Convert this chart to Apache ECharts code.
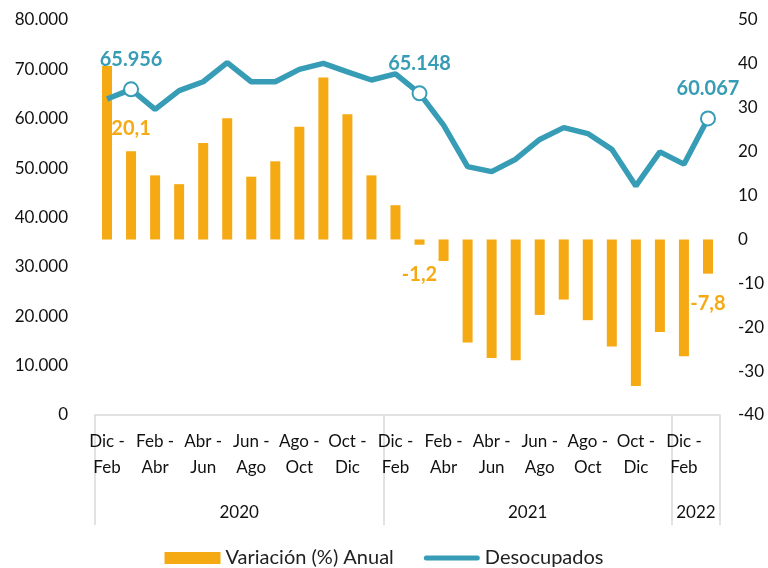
<!DOCTYPE html>
<html>
<head>
<meta charset="utf-8">
<script src="https://cdn.jsdelivr.net/npm/echarts@6/dist/echarts.min.js"></script>
<style>
  html, body { margin: 0; padding: 0; background: #fff; }
  #chart { width: 768px; height: 568px; }
</style>
</head>
<body>
<div id="chart"></div>
<script>
const categories = [
  "Dic - Feb", "Ene - Mar", "Feb - Abr", "Mar - May", "Abr - Jun", "May - Jul",
  "Jun - Ago", "Jul - Sep", "Ago - Oct", "Sep - Nov", "Oct - Dic", "Nov - Ene",
  "Dic - Feb", "Ene - Mar", "Feb - Abr", "Mar - May", "Abr - Jun", "May - Jul",
  "Jun - Ago", "Jul - Sep", "Ago - Oct", "Sep - Nov", "Oct - Dic", "Nov - Ene",
  "Dic - Feb", "Ene - Mar"
];
const years = ["2020", "2021", "2022"];
const yearSizes = [12, 12, 2];

// variación anual (%), eje derecho
const variacion = [
  39.5, 20.1, 14.6, 12.6, 22.0, 27.6, 14.3, 17.8, 25.7, 36.9, 28.5, 14.6,
  7.8, -1.2, -4.9, -23.5, -27.0, -27.5, -17.2, -13.7, -18.4, -24.4, -33.4, -21.1,
  -26.6, -7.8
];
// desocupados, eje izquierdo
const desocupados = [
  64000, 65956, 61900, 65700, 67500, 71350, 67500, 67500, 70000, 71200, 69500, 67850,
  69100, 65148, 58700, 50300, 49300, 51800, 55800, 58200, 57000, 53800, 46400, 53300,
  50800, 60067
];
const labelled = [1, 13, 25];

const orange = "#F5AA14";
const teal = "#379CB5";
const font = "Lato";

// year boundaries and centres for the second level of the x axis
const yearBounds = [0];
const yearCenters = [];
yearSizes.forEach((n, i) => {
  yearCenters.push(yearBounds[i] + n / 2);
  yearBounds.push(yearBounds[i] + n);
});

const fmtThousands = (v) => String(v).replace(/\B(?=(\d{3})+(?!\d))/g, ".");
const fmtComma = (v) => v.toFixed(1).replace(".", ",");

const chart = echarts.init(document.getElementById("chart"));

chart.setOption({
  animation: false,
  textStyle: { fontFamily: font },
  grid: { left: 95, right: 48, top: 20, bottom: 153 },
  legend: {
    bottom: -5,
    left: "center",
    itemWidth: 56,
    itemHeight: 12,
    itemGap: 30,
    symbolKeepAspect: true,
    textStyle: { fontFamily: font, fontSize: 20, color: "#222" },
    data: [
      { name: "Variación (%) Anual", icon: "rect" },
      {
        name: "Desocupados",
        icon: "path://M2.5,0 L53.5,0 A2.5,2.5 0 0 1 53.5,5 L2.5,5 A2.5,2.5 0 0 1 2.5,0 Z",
        itemStyle: { color: teal }
      }
    ]
  },
  xAxis: [
    {
      type: "category",
      data: categories,
      axisLine: { onZero: false, lineStyle: { color: "#d9d9d9", width: 1.5 } },
      axisTick: { show: false },
      axisLabel: {
        interval: 1,
        color: "#111",
        fontFamily: font,
        fontSize: 17,
        lineHeight: 26,
        margin: 14,
        formatter: (v) => v.replace(" - ", " -\n")
      }
    },
    {
      type: "value",
      position: "bottom",
      min: 0,
      max: categories.length,
      axisLine: { show: false, onZero: false },
      splitLine: { show: false },
      axisTick: {
        show: true,
        customValues: yearBounds,
        length: 110,
        lineStyle: { color: "#d9d9d9", width: 1.5 }
      },
      axisLabel: {
        customValues: yearCenters,
        margin: 89,
        color: "#111",
        fontFamily: font,
        fontSize: 17,
        formatter: (v) => years[yearCenters.indexOf(v)] || ""
      }
    }
  ],
  yAxis: [
    {
      type: "value",
      min: 0,
      max: 80000,
      interval: 10000,
      axisLine: { show: false },
      axisTick: { show: false },
      splitLine: { show: false },
      axisLabel: {
        margin: 27,
        color: "#111",
        fontFamily: font,
        fontSize: 17,
        formatter: fmtThousands
      }
    },
    {
      type: "value",
      min: -40,
      max: 50,
      interval: 10,
      axisLine: { show: false },
      axisTick: { show: false },
      splitLine: { show: false },
      axisLabel: {
        margin: 18,
        color: "#111",
        fontFamily: font,
        fontSize: 17
      }
    }
  ],
  series: [
    {
      name: "Variación (%) Anual",
      type: "bar",
      xAxisIndex: 0,
      yAxisIndex: 1,
      barWidth: 10,
      itemStyle: { color: orange },
      data: variacion.map((v, i) => {
        if (!labelled.includes(i)) return v;
        return {
          value: v,
          label: {
            show: true,
            position: v >= 0 ? "top" : "bottom",
            distance: v >= 0 ? 13 : 20,
            color: orange,
            fontFamily: font,
            fontWeight: "bold",
            fontSize: 20,
            formatter: (p) => fmtComma(p.value)
          }
        };
      })
    },
    {
      name: "Desocupados",
      type: "line",
      xAxisIndex: 0,
      yAxisIndex: 0,
      symbol: "none",
      lineStyle: { color: teal, width: 5.5 },
      itemStyle: { color: teal },
      z: 3,
      data: desocupados.map((v, i) => {
        if (!labelled.includes(i)) return v;
        return {
          value: v,
          symbol: "circle",
          symbolSize: 14,
          itemStyle: { color: "#fff", borderColor: teal, borderWidth: 2 },
          label: {
            show: true,
            position: "top",
            distance: 12,
            color: teal,
            fontFamily: font,
            fontWeight: "bold",
            fontSize: 20,
            formatter: (p) => fmtThousands(p.value)
          }
        };
      })
    }
  ]
});
</script>
</body>
</html>
